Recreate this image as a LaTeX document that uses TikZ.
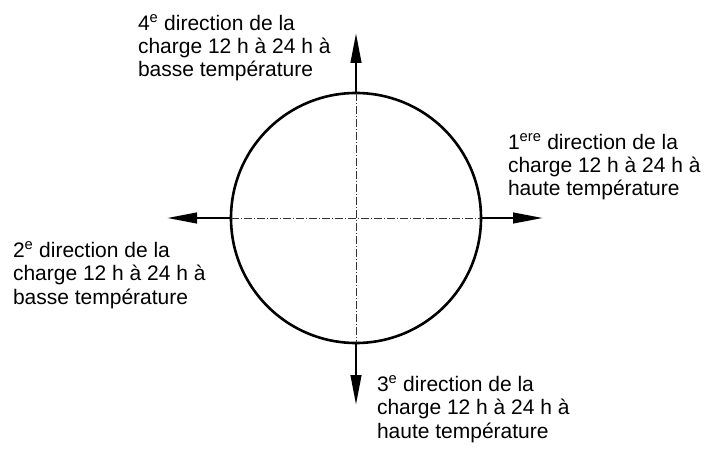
\documentclass[tikz,border=0pt]{standalone}
\usepackage{fontspec}
\setmainfont{Liberation Sans}
\usepackage{tikz}
\usetikzlibrary{arrows.meta,positioning}
\usepackage{xcolor}
\definecolor{Ink}{HTML}{000000}
\definecolor{Axe}{HTML}{333333}
\tikzset{
  dirlabel/.style={inner sep=0pt, outer sep=0pt, align=left, anchor=base west,
    font=\fontsize{21}{23.4}\selectfont, text=Ink},
  fatarr/.style={-{Triangle[length=30pt,width=10.5pt]}, line width=2.7pt, color=Ink},
}
\begin{document}
\begin{tikzpicture}[x=1pt, y=1pt,
  disc/.style={draw=Ink, circle, line width=2.6pt, minimum size=250pt,
    inner sep=0pt, outer sep=0pt},
  axis/.style={draw=Axe, line width=0.6pt, dash pattern=on 8pt off 2pt on 1pt off 2pt},
]
  \useasboundingbox (0,0) rectangle (708,450);
  \node[disc] (roue) at (356,232) {};
  \coordinate (p4) at (356,417);
  \coordinate (p3) at (356,45);
  \coordinate (p2) at (167,232);
  \coordinate (p1) at (543,232);
  \draw[axis] (roue.west) -- (roue.east);
  \draw[axis] (roue.north) -- (roue.south);
  \draw[fatarr] (roue.east) -- (p1);
  \draw[fatarr] (roue.west) -- (p2);
  \draw[fatarr] (roue.south) -- (p3);
  \draw[fatarr] (roue.north) -- (p4);
  \node[dirlabel] (lab1) at (508,254) {1\textsuperscript{ere} direction de la\\charge 12 h à 24 h à\\haute température};
  \node[dirlabel] (lab2) at (13,146) {2\textsuperscript{e} direction de la\\charge 12 h à 24 h à\\basse température};
  \node[dirlabel] (lab3) at (377,12) {3\textsuperscript{e} direction de la\\charge 12 h à 24 h à\\haute température};
  \node[dirlabel] (lab4) at (138,373) {4\textsuperscript{e} direction de la\\charge 12 h à 24 h à\\basse température};
\end{tikzpicture}
\end{document}
